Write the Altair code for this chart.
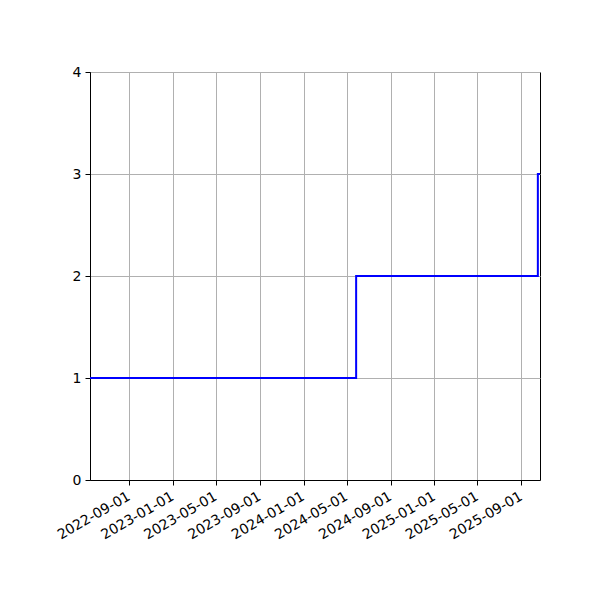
import altair as alt
import pandas as pd

dates = ["2022-05-14", "2024-05-27", "2025-10-17", "2025-10-23"]
counts = [1, 2, 3, 3]
x_ticks = ["2022-09-01", "2023-01-01", "2023-05-01", "2023-09-01", "2024-01-01",
           "2024-05-01", "2024-09-01", "2025-01-01", "2025-05-01", "2025-09-01"]
y_ticks = [0, 1, 2, 3, 4]
x_domain = ["2022-05-14", "2025-10-23"]

df = pd.DataFrame({"date": dates, "count": counts})

tick_vals = [alt.DateTime(year=int(d[:4]), month=int(d[5:7]), date=int(d[8:10])) for d in x_ticks]
dom = [alt.DateTime(year=int(d[:4]), month=int(d[5:7]), date=int(d[8:10])) for d in x_domain]

chart = alt.Chart(df).mark_line(
    interpolate="step-after", color="blue", strokeWidth=2, clip=True
).encode(
    x=alt.X("date:T", scale=alt.Scale(domain=dom, nice=False),
            axis=alt.Axis(values=tick_vals, format="%Y-%m-%d", labelAngle=330,
                          labelAlign="right", labelBaseline="top", title=None,
                          labelPadding=4, labelOffset=-4, labelOverlap=False,
                          labelBound=False, labelFlush=False)),
    y=alt.Y("count:Q", scale=alt.Scale(domain=[0, 4], nice=False),
            axis=alt.Axis(values=y_ticks, format="d", title=None, labelPadding=4)),
).properties(
    width=450, height=408,
    autosize=alt.AutoSizeParams(type="none"),
    padding={"left": 82, "top": 64, "right": 52, "bottom": 112},
).configure_axis(
    labelFont="DejaVu Sans", labelFontSize=14, labelColor="black",
    domainColor="black", domainWidth=1, tickColor="black", tickSize=5, tickWidth=1,
    grid=True, gridColor="#b0b0b0", gridWidth=1,
).configure_view(
    stroke="black", strokeWidth=1
)

chart.save("out.html", embed_options={"renderer": "svg", "actions": False})
